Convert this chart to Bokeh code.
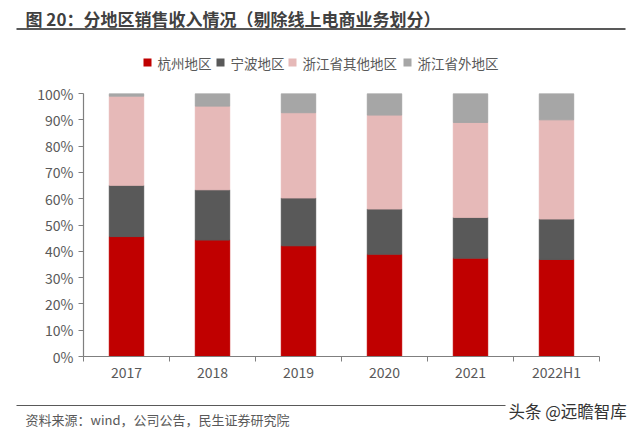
from bokeh.plotting import figure
from bokeh.layouts import column
from bokeh.models import ColumnDataSource, Range1d, FixedTicker, PrintfTickFormatter
from bokeh.core.properties import value
from bokeh.embed import file_html
from bokeh.resources import INLINE

# ---- data ----
years = ["2017", "2018", "2019", "2020", "2021", "2022H1"]
hangzhou = [45.6, 44.3, 42.1, 38.9, 37.4, 36.9]
ningbo = [19.5, 19.1, 18.2, 17.2, 15.5, 15.4]
zj_other = [33.9, 31.8, 32.4, 35.7, 36.1, 37.7]
zj_outside = [1.0, 4.8, 7.3, 8.2, 11.0, 10.0]
series_names = ["杭州地区", "宁波地区", "浙江省其他地区", "浙江省外地区"]
y_ticks = [0, 10, 20, 30, 40, 50, 60, 70, 80, 90, 100]

title_text = "图 20：分地区销售收入情况（剔除线上电商业务划分）"
source_text = "资料来源：wind，公司公告，民生证券研究院"
watermark_text = "头条 @远瞻智库"

# ---- style ----
colors = ["#C00000", "#595959", "#E6B9B8", "#A6A6A6"]
FONT = "Noto Sans CJK SC"
TXT = "#595959"
AX = "#7F7F7F"
W = 630
HEAD_H, MAIN_H, FOOT_H = 80, 315, 35
legend_x = [143, 216, 288, 403]   # left edges of legend swatches (px)


def blank(h):
    f = figure(width=W, height=h, output_backend="svg", toolbar_location=None,
               x_range=Range1d(0, W), y_range=Range1d(h, 0),
               min_border=0, min_border_left=0, min_border_right=0,
               min_border_top=0, min_border_bottom=0)
    f.axis.visible = False
    f.grid.visible = False
    f.outline_line_color = None
    f.background_fill_color = "white"
    f.border_fill_color = "white"
    f.frame_align = False
    return f


# ---- header: title, rule, legend ----
ph = blank(HEAD_H)
ph.text(x=[25], y=[18], text=[title_text], text_font=value(FONT), text_font_size="17px",
        text_font_style="bold", text_color="#404040", text_baseline="middle", text_align="left")
ph.segment(x0=[16], y0=[28.5], x1=[625], y1=[28.5], line_width=2, line_color="#595959")
leg = ColumnDataSource(dict(sx=[x + 4 for x in legend_x], tx=[x + 14 for x in legend_x],
                            y=[62] * len(series_names), name=series_names, c=colors))
ph.rect(x="sx", y="y", width=8, height=8, fill_color="c", line_color=None, source=leg)
ph.text(x="tx", y="y", text="name", text_font=value(FONT), text_font_size="13.5px",
        text_color=TXT, text_baseline="middle", text_align="left", source=leg)

# ---- main chart ----
ML, MR, MT = 83, W - 599, 13
MB = MAIN_H - (356 - HEAD_H)
xs = [i + 0.5 for i in range(len(years))]
src = ColumnDataSource(dict(x=xs, s0=hangzhou, s1=ningbo, s2=zj_other, s3=zj_outside))

p = figure(width=W, height=MAIN_H, output_backend="svg", toolbar_location=None,
           x_range=Range1d(0, len(years)), y_range=Range1d(0, 100),
           min_border_left=ML, min_border_right=MR, min_border_top=MT, min_border_bottom=MB)
p.outline_line_color = None
p.xgrid.visible = False
p.ygrid.visible = False
p.background_fill_color = "white"
p.border_fill_color = "white"
p.frame_align = False

p.vbar_stack(["s0", "s1", "s2", "s3"], x="x", width=0.4, source=src, color=colors)

xa = p.xaxis[0]
xa.ticker = FixedTicker(ticks=xs, minor_ticks=list(range(len(years) + 1)))
xa.major_label_overrides = {x: y for x, y in zip(xs, years)}
xa.major_tick_out = 0
xa.major_tick_in = 0
xa.minor_tick_out = 5
xa.minor_tick_in = 0
xa.minor_tick_line_color = AX
xa.axis_line_color = AX
xa.axis_line_width = 1.2
xa.major_label_text_font = FONT
xa.major_label_text_font_size = "14px"
xa.major_label_text_color = TXT
xa.major_label_standoff = 0

ya = p.yaxis[0]
ya.ticker = FixedTicker(ticks=y_ticks, minor_ticks=[])
ya.formatter = PrintfTickFormatter(format="%d%%")
ya.major_tick_out = 5
ya.major_tick_in = 0
ya.major_tick_line_color = AX
ya.axis_line_color = AX
ya.axis_line_width = 1.2
ya.major_label_text_font = FONT
ya.major_label_text_font_size = "14px"
ya.major_label_text_color = TXT
ya.major_label_standoff = 5

# ---- footer: rule, source, watermark ----
pf = blank(FOOT_H)
pf.segment(x0=[16], y0=[10], x1=[505], y1=[10], line_width=1.2, line_color="#595959")
pf.text(x=[25], y=[24], text=[source_text], text_font=value(FONT), text_font_size="13px",
        text_color=TXT, text_baseline="middle", text_align="left")
pf.text(x=[508], y=[15], text=[watermark_text], text_font=value(FONT), text_font_size="16.5px",
        text_color="#333333", text_baseline="middle", text_align="left")

layout = column(ph, p, pf, spacing=0)
open("out.html", "w").write(file_html(layout, INLINE))
